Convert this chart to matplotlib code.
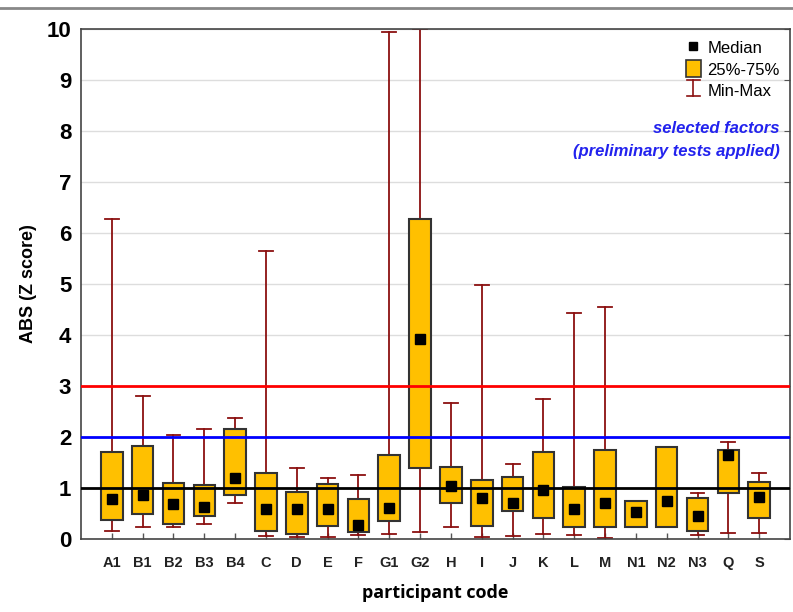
import matplotlib
matplotlib.use("Agg")
import matplotlib.pyplot as plt
from matplotlib.lines import Line2D
from matplotlib.patches import Patch
from matplotlib.legend_handler import HandlerBase

categories = ["A1", "B1", "B2", "B3", "B4", "C", "D", "E", "F", "G1", "G2",
              "H", "I", "J", "K", "L", "M", "N1", "N2", "N3", "Q", "S"]
medians = [0.78, 0.86, 0.69, 0.63, 1.20, 0.58, 0.58, 0.58, 0.27, 0.60, 3.93,
           1.03, 0.80, 0.71, 0.97, 0.58, 0.71, 0.53, 0.75, 0.46, 1.65, 0.83]
q1 = [0.38, 0.50, 0.30, 0.45, 0.86, 0.16, 0.10, 0.25, 0.13, 0.35, 1.40,
      0.70, 0.25, 0.55, 0.41, 0.23, 0.23, 0.23, 0.23, 0.15, 0.90, 0.42]
q3 = [1.71, 1.82, 1.09, 1.05, 2.15, 1.30, 0.92, 1.07, 0.78, 1.65, 6.27,
      1.42, 1.16, 1.22, 1.71, 1.02, 1.75, 0.75, 1.80, 0.80, 1.75, 1.12]
mins = [0.16, 0.24, 0.24, 0.30, 0.70, 0.05, 0.03, 0.03, 0.08, 0.10, 0.13,
        0.23, 0.03, 0.05, 0.10, 0.08, 0.02, 0.23, 0.23, 0.08, 0.12, 0.12]
maxs = [6.28, 2.81, 2.03, 2.15, 2.38, 5.65, 1.40, 1.20, 1.25, 9.95, 10.0,
        2.67, 4.98, 1.48, 2.75, 4.43, 4.55, 0.75, 1.80, 0.90, 1.90, 1.30]
ref_lines = [3, 2, 1]
ref_colors = ["#FF0000", "#0000FF", "#000000"]
yticks = list(range(0, 11))

plt.rcParams['font.family'] = ['Liberation Sans', 'DejaVu Sans']

fig = plt.figure(figsize=(7.93, 6.12), dpi=100)
ax = fig.add_axes([81 / 793, 73 / 612, 709 / 793, 510 / 612])

positions = list(range(1, len(categories) + 1))
stats = []
for c, m, a, b, lo, hi in zip(categories, medians, q1, q3, mins, maxs):
    stats.append(dict(label=c, med=m, q1=a, q3=b, whislo=lo, whishi=hi, fliers=[]))

whisk_col = "#8B1010"
ax.bxp(stats, positions=positions, widths=0.7, capwidths=0.45,
       patch_artist=True, showfliers=False,
       boxprops=dict(facecolor="#FFC000", edgecolor="#333333", linewidth=1.5, zorder=3),
       whiskerprops=dict(color=whisk_col, linewidth=1.3, zorder=2),
       capprops=dict(color=whisk_col, linewidth=1.3, zorder=2),
       medianprops=dict(linewidth=0))

ax.plot(positions, medians, 's', color="black", markersize=6.5, zorder=6, linestyle='none')

for v, col in zip(ref_lines, ref_colors):
    ax.axhline(v, color=col, linewidth=2, zorder=5)

ax.set_xlim(0, len(categories) + 1)
ax.set_ylim(0, 10)
ax.set_yticks(yticks)
ax.set_yticklabels([str(t) for t in yticks], fontsize=16, fontweight='bold')
ax.set_xticks(positions)
ax.set_xticklabels(categories, fontsize=10.5, fontweight='bold', color="#222222")
ax.yaxis.grid(True, color="#DDDDDD", linewidth=1, zorder=0)
ax.set_axisbelow(True)
ax.tick_params(axis='x', direction='in', length=4, width=1, color="#555555", pad=12)
ax.tick_params(axis='y', left=False, right=True, direction='in', length=4,
               color="#555555", pad=7)
for s in ax.spines.values():
    s.set_color("#444444")
    s.set_linewidth(1.2)

ax.set_xlabel("participant code", fontsize=13, fontweight='bold',
              family=['Open Sans', 'DejaVu Sans'], labelpad=10)
ax.set_ylabel("ABS (Z score)", fontsize=13, fontweight='bold', labelpad=7)


class HandlerMinMax(HandlerBase):
    def create_artists(self, legend, orig_handle, xdescent, ydescent, width,
                       height, fontsize, trans):
        cx = width / 2 - xdescent
        cw = width * 0.45
        top = height * 0.95
        bot = height * 0.0
        l1 = Line2D([cx, cx], [bot, top], color=whisk_col, lw=1.2, transform=trans)
        l2 = Line2D([cx - cw, cx + cw], [top, top], color=whisk_col, lw=1.2, transform=trans)
        l3 = Line2D([cx - cw, cx + cw], [bot, bot], color=whisk_col, lw=1.2, transform=trans)
        return [l1, l2, l3]


h_med = Line2D([], [], marker='s', color='black', linestyle='none', markersize=6)
h_box = Patch(facecolor="#FFC000", edgecolor="#333333", linewidth=1.2)
h_mm = Line2D([], [])
leg = ax.legend([h_med, h_box, h_mm], ["Median", "25%-75%", "Min-Max"],
                loc='upper right', frameon=False, fontsize=12,
                handlelength=0.9, handleheight=1.2, handletextpad=0.4,
                labelspacing=0.25, borderaxespad=0.2,
                handler_map={h_mm: HandlerMinMax()})
leg.set_zorder(10)

ax.text(0.985, 0.805, "selected factors", transform=ax.transAxes, ha='right',
        va='center', color="#2222EE", fontsize=12, fontweight='bold', style='italic')
ax.text(0.985, 0.76, "(preliminary tests applied)", transform=ax.transAxes, ha='right',
        va='center', color="#2222EE", fontsize=12, fontweight='bold', style='italic')

fig.add_artist(Line2D([0, 1], [1 - 8 / 612, 1 - 8 / 612], color="#888888", lw=2,
                      transform=fig.transFigure))

fig.savefig("out.png", dpi=100)
